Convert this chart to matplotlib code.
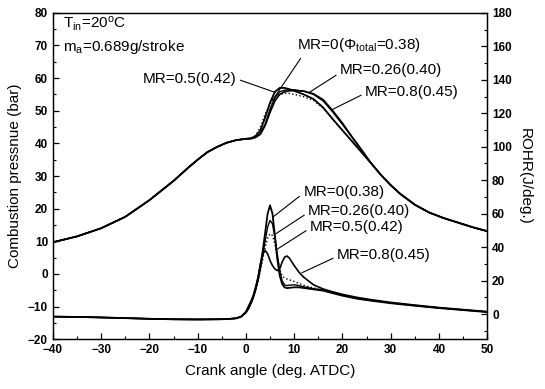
import numpy as np
import matplotlib.pyplot as plt
from matplotlib.ticker import MultipleLocator

plt.rcParams['font.family'] = 'Liberation Sans'
plt.rcParams['mathtext.fontset'] = 'custom'
plt.rcParams['mathtext.rm'] = 'Liberation Sans'
plt.rcParams['mathtext.it'] = 'Liberation Sans'

# ---- data ----
# combustion pressure (bar), shared compression / expansion parts
p_comp_x = [-40, -35, -30, -25, -20, -15, -12, -10, -8, -6, -4, -2, 0]
p_comp_y = [9.7, 11.5, 14.0, 17.5, 22.6, 28.5, 32.5, 35.0, 37.3, 38.9, 40.2, 41.0, 41.4]
p_exp_x = [26, 28, 30, 32, 35, 38, 41, 44, 47, 50]
p_exp_y = [33.8, 30.3, 27.2, 24.5, 21.2, 18.8, 17.1, 15.7, 14.3, 13.1]

p_mid_x = [1, 2, 3, 4, 5, 6, 7, 8, 9, 10, 12, 14, 16, 18, 20, 22, 24]
p_mr0 = [41.6, 42.2, 44.0, 48.0, 52.5, 55.8, 57.0, 57.0, 56.6, 56.1, 55.0, 53.6, 51.0, 47.4, 44.0, 40.6, 37.2]
p_mr026 = [41.5, 41.9, 43.0, 46.0, 50.5, 54.0, 55.8, 56.3, 56.5, 56.4, 56.0, 55.0, 53.0, 49.6, 45.8, 41.8, 37.8]
p_mr05 = [41.5, 42.4, 45.0, 49.0, 52.0, 54.0, 55.0, 55.3, 55.3, 55.0, 54.3, 53.2, 50.8, 47.4, 44.0, 40.6, 37.2]
p_mr08 = [41.4, 41.8, 42.8, 45.5, 49.5, 53.0, 55.0, 55.8, 56.1, 56.2, 56.0, 55.2, 53.4, 50.0, 46.2, 42.0, 38.0]

# rate of heat release (J/deg.)
r_pre_x = [-40, -35, -30, -25, -20, -15, -10, -6, -4, -2, -1]
r_pre_y = [-1.5, -1.7, -2.0, -2.4, -2.8, -3.1, -3.2, -3.1, -3.0, -2.5, -1.5]

r_x = [0, 0.5, 1, 1.5, 2, 2.5, 3, 3.5, 4, 4.5, 5, 5.5, 6, 6.5, 7, 7.5, 8, 8.5, 9,
       10, 11, 12, 14, 16, 18, 20, 23, 26, 30, 35, 40, 45, 50]
r_mr0 = [1.0, 3.5, 6.5, 10, 15, 21, 29, 38, 49, 60, 65, 60, 47, 33, 23, 18, 16, 15.5, 15.7,
         16.0, 16.0, 15.6, 14.8, 14.0, 12.5, 11.0, 9.2, 8.0, 6.5, 5.0, 3.6, 2.4, 1.2]
r_mr026 = [0.8, 3.0, 6.0, 9.5, 14, 20, 27, 35, 44, 52, 56, 54, 46, 36, 26, 20, 17.5, 17, 17.3,
           17.5, 17.0, 16.3, 15.2, 14.2, 12.8, 11.3, 9.5, 8.2, 6.7, 5.1, 3.7, 2.5, 1.3]
r_mr05 = [0.8, 3.0, 6.0, 9.5, 14, 19.5, 26, 33, 40, 45.5, 48, 47, 42, 34, 27, 23, 21.5, 21, 20.5,
          19.5, 18.3, 17.2, 15.6, 14.5, 13.0, 11.5, 9.6, 8.3, 6.8, 5.2, 3.8, 2.6, 1.4]
r_mr08 = [1.5, 4.5, 7.5, 11, 16, 22, 30, 36, 38, 36, 32, 29, 27, 26, 27, 31, 34, 34.7, 33.5,
          29, 25, 22, 17.5, 15.0, 13.3, 11.8, 10.0, 8.6, 7.0, 5.4, 3.9, 2.7, 1.5]

styles = [('-', 1.3), ('-', 1.0), (':', 1.0), ('-', 1.2)]

fig = plt.figure(figsize=(5.45, 3.89), dpi=100)
ax = fig.add_axes([0.097, 0.128, 0.797, 0.839])
ax2 = ax.twinx()

for py, (ls, lw) in zip([p_mr0, p_mr026, p_mr05, p_mr08], styles):
    ax.plot(p_comp_x + p_mid_x + p_exp_x, p_comp_y + py + p_exp_y, color='k', ls=ls, lw=lw)

for ry, (ls, lw) in zip([r_mr0, r_mr026, r_mr05, r_mr08], styles):
    ax2.plot(r_pre_x + r_x, r_pre_y + ry, color='k', ls=ls, lw=lw)

ax.set_xlim(-40, 50)
ax.set_ylim(-20, 80)
ax2.set_ylim(-15, 180)

ax.xaxis.set_major_locator(MultipleLocator(10))
ax.xaxis.set_minor_locator(MultipleLocator(5))
ax.yaxis.set_major_locator(MultipleLocator(10))
ax.yaxis.set_minor_locator(MultipleLocator(5))
ax2.yaxis.set_major_locator(MultipleLocator(20))
ax2.yaxis.set_minor_locator(MultipleLocator(10))

for a in (ax, ax2):
    a.tick_params(which='both', direction='in', top=False, labelsize=8.5)
    a.tick_params(which='major', length=4, width=0.9)
    a.tick_params(which='minor', length=2, width=0.8)
    for s in a.spines.values():
        s.set_linewidth(0.9)
for lab in ax.get_xticklabels() + ax.get_yticklabels() + ax2.get_yticklabels():
    lab.set_fontweight('bold')

ax.set_xlabel('Crank angle (deg. ATDC)', fontsize=11, labelpad=6)
ax.set_ylabel('Combustion pressnue (bar)', fontsize=11, labelpad=4)
ax2.set_ylabel('ROHR(J/deg.)', fontsize=11, rotation=270, labelpad=14)

ax.text(-37.8, 76.5, r'T$_{\rm in}$=20$^{\rm o}$C', fontsize=11, va='center')
ax.text(-37.8, 69.5, r'm$_{\rm a}$=0.689g/stroke', fontsize=11, va='center')

lead = dict(arrowstyle='-', color='k', lw=0.8, shrinkA=1, shrinkB=0)
ax.annotate(r'MR=0($\Phi_{\rm total}$=0.38)', xy=(5.4, 53), xytext=(10.6, 70),
            fontsize=11, va='center', ha='left', arrowprops=dict(lead, relpos=(0.05, 0)))
ax.annotate('MR=0.5(0.42)', xy=(6.1, 55.6), xytext=(-2, 59.8),
            fontsize=11, va='center', ha='right', arrowprops=dict(lead, relpos=(1, 0.5)))
ax.annotate('MR=0.26(0.40)', xy=(13, 55.5), xytext=(19.5, 62.5),
            fontsize=11, va='center', ha='left', arrowprops=dict(lead, relpos=(0, 0.3)))
ax.annotate('MR=0.8(0.45)', xy=(17.8, 50.3), xytext=(24.7, 55.8),
            fontsize=11, va='center', ha='left', arrowprops=dict(lead, relpos=(0, 0.4)))

ax2.annotate('MR=0(0.38)', xy=(5.6, 58), xytext=(11.9, 73),
             fontsize=11, va='center', ha='left', arrowprops=dict(lead, relpos=(0, 0.4)))
ax2.annotate('MR=0.26(0.40)', xy=(6.2, 48), xytext=(12.9, 61.5),
             fontsize=11, va='center', ha='left', arrowprops=dict(lead, relpos=(0, 0.4)))
ax2.annotate('MR=0.5(0.42)', xy=(6.6, 39), xytext=(13.3, 52.2),
             fontsize=11, va='center', ha='left', arrowprops=dict(lead, relpos=(0, 0.4)))
ax2.annotate('MR=0.8(0.45)', xy=(11.6, 24.7), xytext=(18.9, 35.3),
             fontsize=11, va='center', ha='left', arrowprops=dict(lead, relpos=(0, 0.4)))

fig.savefig('out.png', dpi=100)
